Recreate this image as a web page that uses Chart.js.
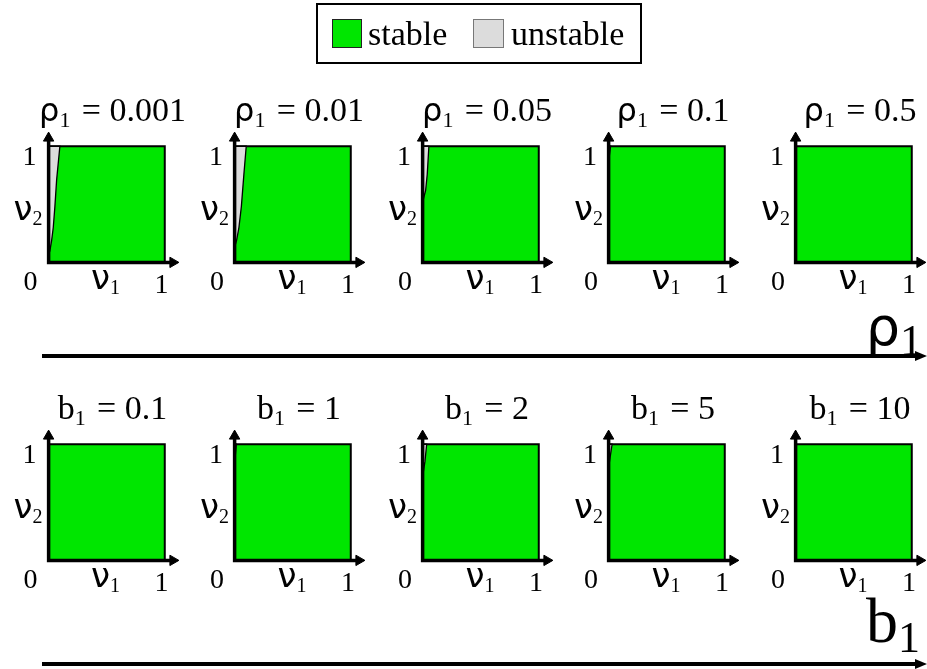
<!DOCTYPE html>
<html>
<head>
<meta charset="utf-8">
<script src="https://cdn.jsdelivr.net/npm/chart.js@4/dist/chart.umd.min.js"></script>
<style>
  html, body { margin: 0; padding: 0; background: #fff; }
  #fig { position: relative; width: 927px; height: 669px; overflow: hidden; background: #fff; }
  #fig canvas { position: absolute; z-index: 1; }
  #overlay { position: absolute; left: 0; top: 0; z-index: 2; pointer-events: none; }
  text { font-family: "Liberation Serif", serif; fill: #000; }
  .gr { font-family: "DejaVu Sans", sans-serif; }
</style>
</head>
<body>
<div id="fig">
  <svg id="overlay" width="927" height="669" xmlns="http://www.w3.org/2000/svg"></svg>
</div>
<script>
// ---------------- data ----------------
const legendLabels = ['stable', 'unstable'];
const rowParams = ['ρ', 'b'];                       // parameter varied in each row
const rhoValues = ['0.001', '0.01', '0.05', '0.1', '0.5'];
const bValues = ['0.1', '1', '2', '5', '10'];
const domain = [0, 1];                               // ν1, ν2 range in every panel
const tickLabels = ['0', '1'];

// stability boundary curve in each panel (ν1 values, ν2 values);
// the region between ν2-axis and the curve is unstable
const rhoBoundaryNu1 = [
  [0, 0.011, 0.026, 0.040, 0.054, 0.069, 0.097],
  [0, 0.017, 0.037, 0.058, 0.080, 0.100],
  [0, 0.026, 0.040, 0.054],
  [0, 0.017],
  []
];
const rhoBoundaryNu2 = [
  [0.07, 0.10, 0.19, 0.30, 0.48, 0.71, 1],
  [0.13, 0.19, 0.30, 0.48, 0.76, 1],
  [0.52, 0.62, 0.76, 1],
  [0.87, 1],
  []
];
const bBoundaryNu1 = [
  [],
  [0, 0.015],
  [0, 0.020, 0.035],
  [0, 0.030],
  []
];
const bBoundaryNu2 = [
  [],
  [0.84, 1],
  [0.72, 0.85, 1],
  [0.80, 1],
  []
];

// ---------------- layout / style ----------------
const GREEN = '#00e600';
const GRAY = '#dcdcdc';
const colX = [48.5, 235, 423, 609, 796];   // pixel x of each panel origin
const rowY = [262, 560];                   // pixel y of each panel origin
const axisMin = -0.1, axisMax = 1.2;       // scale range, room for arrows
const canvasSize = 151;
const unitPx = canvasSize / (axisMax - axisMin);
const axisReach = 1.07;                    // axis arrows extend beyond the square

const fig = document.getElementById('fig');
const svg = document.getElementById('overlay');
const NS = 'http://www.w3.org/2000/svg';

function svgEl(tag, attrs, parent) {
  const e = document.createElementNS(NS, tag);
  for (const k in attrs) e.setAttribute(k, attrs[k]);
  (parent || svg).appendChild(e);
  return e;
}
function tspan(parent, txt, attrs) {
  const t = svgEl('tspan', attrs || {}, parent);
  t.textContent = txt;
  return t;
}

function makePanel(row, col, nu1, nu2) {
  const ox = colX[col], oy = rowY[row];
  const cv = document.createElement('canvas');
  cv.width = canvasSize; cv.height = canvasSize;
  cv.style.width = canvasSize + 'px'; cv.style.height = canvasSize + 'px';
  cv.style.left = (ox + axisMin * unitPx) + 'px';
  cv.style.top = (oy - axisMax * unitPx) + 'px';
  fig.appendChild(cv);

  const lo = domain[0], hi = domain[1];
  const square = [{x: lo, y: lo}, {x: hi, y: lo}, {x: hi, y: hi}, {x: lo, y: hi}, {x: lo, y: lo}];
  const curve = nu1.map((v, i) => ({x: v, y: nu2[i]}));
  const unstable = curve.length ? curve.concat([{x: lo, y: hi}, curve[0]]) : [];

  new Chart(cv, {
    type: 'scatter',
    data: {
      datasets: [
        { label: legendLabels[0], data: square, showLine: true, fill: 'shape',
          backgroundColor: GREEN, borderColor: '#000', borderWidth: 2,
          pointRadius: 0, tension: 0, order: 3 },
        { label: legendLabels[1], data: unstable, showLine: true, fill: 'shape',
          backgroundColor: GRAY, borderColor: '#000', borderWidth: 1.3,
          pointRadius: 0, tension: 0, order: 2 },
        { label: 'axes', data: [{x: lo, y: axisReach}, {x: lo, y: lo}, {x: axisReach, y: lo}],
          showLine: true, fill: false, borderColor: '#000', borderWidth: 3.5,
          borderJoinStyle: 'miter', pointRadius: 0, tension: 0, order: 1 },
        { label: 'arrows', data: [{x: lo, y: axisReach}, {x: axisReach, y: lo}],
          showLine: false, pointStyle: 'triangle', pointRadius: 6,
          rotation: [0, 90], backgroundColor: '#000', borderColor: '#000',
          borderWidth: 1, order: 0 }
      ]
    },
    options: {
      responsive: false, animation: false, events: [],
      layout: { padding: 0, autoPadding: false },
      plugins: { legend: { display: false }, tooltip: { enabled: false }, title: { display: false } },
      scales: {
        x: { type: 'linear', min: axisMin, max: axisMax, display: false },
        y: { type: 'linear', min: axisMin, max: axisMax, display: false }
      }
    }
  });

  // panel title
  const values = row === 0 ? rhoValues : bValues;
  const t = svgEl('text', { x: ox + 64, y: oy - 141, 'text-anchor': 'middle', 'font-size': 34 });
  if (row === 0) tspan(t, rowParams[0], { class: 'gr', 'font-size': 32 }); else tspan(t, rowParams[1]);
  tspan(t, '1', { 'font-size': 22, dy: 6 });
  tspan(t, '\u2004=\u2005' + values[col], { dy: -6 });

  // tick labels
  svgEl('text', { x: ox - 19, y: oy - 97, 'text-anchor': 'middle', 'font-size': 28 }).textContent = tickLabels[1];
  svgEl('text', { x: ox - 18, y: oy + 28, 'text-anchor': 'middle', 'font-size': 28 }).textContent = tickLabels[0];
  svgEl('text', { x: ox + 113, y: oy + 31, 'text-anchor': 'middle', 'font-size': 28 }).textContent = tickLabels[1];
  // axis names
  const n2 = svgEl('text', { x: ox - 6, y: oy - 42, 'text-anchor': 'end', 'font-size': 28 });
  tspan(n2, 'ν', { class: 'gr', 'font-size': 34 }); tspan(n2, '2', { 'font-size': 20, dy: 5 });
  const n1 = svgEl('text', { x: ox + 57, y: oy + 27, 'text-anchor': 'middle', 'font-size': 28 });
  tspan(n1, 'ν', { class: 'gr', 'font-size': 34 }); tspan(n1, '1', { 'font-size': 20, dy: 5 });
}

for (let c = 0; c < 5; c++) makePanel(0, c, rhoBoundaryNu1[c], rhoBoundaryNu2[c]);
for (let c = 0; c < 5; c++) makePanel(1, c, bBoundaryNu1[c], bBoundaryNu2[c]);

// big parameter arrows under each row
function bigArrow(y) {
  svgEl('line', { x1: 42, y1: y, x2: 918, y2: y, stroke: '#000', 'stroke-width': 4 });
  svgEl('polygon', { points: `915,${y - 5} 927,${y} 915,${y + 5}`, fill: '#000' });
}
bigArrow(356);
bigArrow(664);
const r1 = svgEl('text', { x: 922, y: 345, 'text-anchor': 'end' });
tspan(r1, rowParams[0], { class: 'gr', 'font-size': 54 });
tspan(r1, '1', { 'font-size': 44, dy: 10 });
const b1 = svgEl('text', { x: 920, y: 642, 'text-anchor': 'end' });
tspan(b1, rowParams[1], { 'font-size': 64 });
tspan(b1, '1', { 'font-size': 44, dy: 10 });

// legend
svgEl('rect', { x: 317, y: 4, width: 324, height: 59, fill: '#fff', stroke: '#000', 'stroke-width': 2 });
svgEl('rect', { x: 332.5, y: 19.5, width: 29, height: 28, fill: GREEN, stroke: '#222', 'stroke-width': 1 });
svgEl('text', { x: 368, y: 45, 'font-size': 34 }).textContent = legendLabels[0];
svgEl('rect', { x: 473.5, y: 19.5, width: 30, height: 28, fill: GRAY, stroke: '#777', 'stroke-width': 1 });
svgEl('text', { x: 511, y: 45, 'font-size': 34 }).textContent = legendLabels[1];
</script>
</body>
</html>
